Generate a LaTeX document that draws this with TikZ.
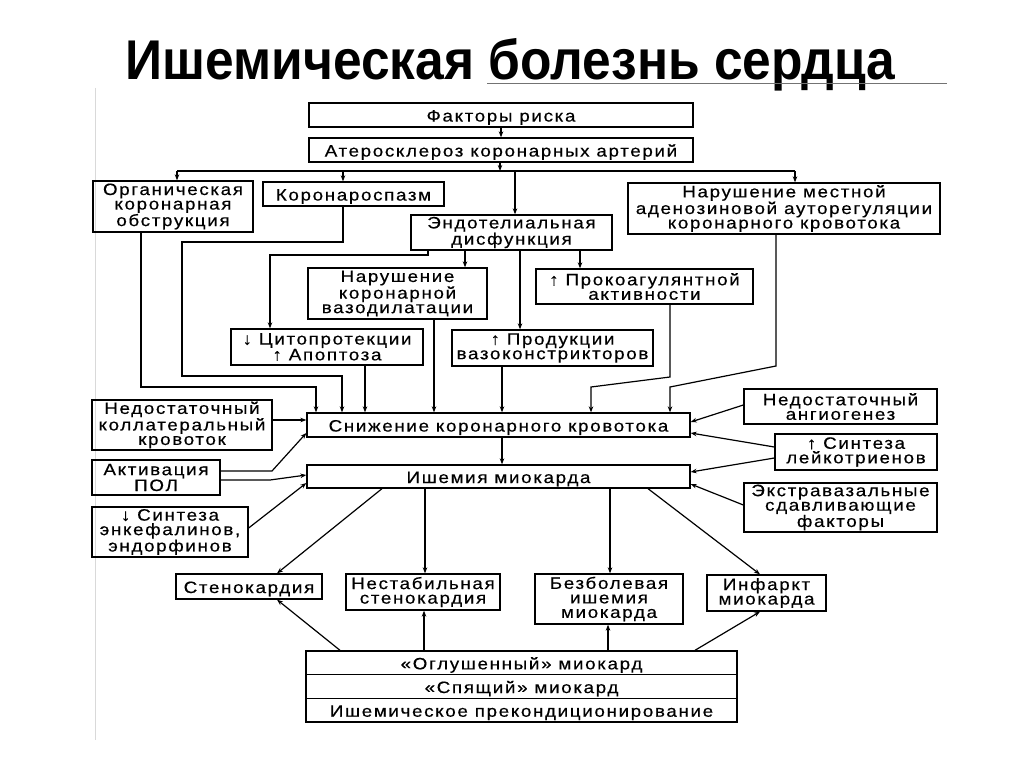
\documentclass[tikz,border=0pt]{standalone}
\usepackage{fontspec}
\setmainfont{Liberation Sans}
\newfontfamily\boxfont[FakeStretch=1.14,LetterSpace=10,FakeBold=0.4]{Liberation Sans}
\newfontfamily\titlefont[FakeStretch=0.92]{Liberation Sans}
\usetikzlibrary{arrows.meta}
\tikzset{
  box/.style={draw, line width=1.3pt, inner sep=1pt, align=center,
    font=\boxfont\fontsize{16.5}{14.5}\selectfont,
    execute at begin node={\rule{0pt}{16.5pt}}},
  ln/.style={line width=1.2pt},
  arr/.style={line width=1.2pt, -{Stealth[length=6pt,width=4.5pt]}}
}
\begin{document}
\begin{tikzpicture}[x=1pt,y=-1pt]
\fill[white] (0,0) rectangle (1024,767);
\useasboundingbox (0,0) rectangle (1024,767);
% title
\node[anchor=base, inner sep=0, font=\titlefont\bfseries\fontsize{56}{60}\selectfont] (title) at (510.5,80) {Ишемическая болезнь сердца};
\draw[black!55, line width=1pt] (487,84) -- (947,84);
\draw[black!15, line width=1pt] (95,88) -- (95,740);
% boxes
\node[box, minimum width=384pt, minimum height=24pt] (risk) at (501,115) {Факторы риска};
\node[box, minimum width=384pt, minimum height=24pt] (ath) at (501,150) {Атеросклероз коронарных артерий};
\node[box, minimum width=160pt, minimum height=51pt] (org) at (173,206.5) {Органическая\\коронарная\\обструкция};
\node[box, minimum width=181pt, minimum height=24pt] (spasm) at (353.5,194) {Коронароспазм};
\node[box, minimum width=201pt, minimum height=35pt] (endo) at (511.5,232.5) {Эндотелиальная\\дисфункция};
\node[box, minimum width=312pt, minimum height=51pt] (aden) at (784,208.5) {Нарушение местной\\аденозиновой ауторегуляции\\коронарного кровотока};
\node[box, minimum width=179pt, minimum height=51pt] (vaso) at (397.5,293.5) {Нарушение\\коронарной\\вазодилатации};
\node[box, minimum width=217pt, minimum height=35pt] (proc) at (644.5,286.5) {↑ Прокоагулянтной\\активности};
\node[box, minimum width=192pt, minimum height=36pt] (cyto) at (327,347) {↓ Цитопротекции\\↑ Апоптоза};
\node[box, minimum width=201pt, minimum height=36pt] (prod) at (552.5,348) {↑ Продукции\\вазоконстрикторов};
\node[box, minimum width=383pt, minimum height=24pt] (sniz) at (498.5,425) {Снижение коронарного кровотока};
\node[box, minimum width=383pt, minimum height=23pt] (isch) at (498.5,476.5) {Ишемия миокарда};
\node[box, minimum width=180pt, minimum height=50pt] (koll) at (182,425) {Недостаточный\\коллатеральный\\кровоток};
\node[box, minimum width=128pt, minimum height=35pt] (pol) at (156,477.5) {Активация\\ПОЛ};
\node[box, minimum width=156pt, minimum height=50pt] (enk) at (170,532) {↓ Синтеза\\энкефалинов,\\эндорфинов};
\node[box, minimum width=193pt, minimum height=35pt] (angio) at (840.5,406.5) {Недостаточный\\ангиогенез};
\node[box, minimum width=162pt, minimum height=36pt] (leik) at (856,452) {↑ Синтеза\\лейкотриенов};
\node[box, minimum width=193pt, minimum height=49pt] (extra) at (840.5,507.5) {Экстравазальные\\сдавливающие\\факторы};
\node[box, minimum width=146pt, minimum height=25pt] (sten) at (249,586.5) {Стенокардия};
\node[box, minimum width=154pt, minimum height=36pt] (unst) at (423,592) {Нестабильная\\стенокардия};
\node[box, minimum width=148pt, minimum height=50pt] (pain) at (609,599) {Безболевая\\ишемия\\миокарда};
\node[box, minimum width=119pt, minimum height=36pt] (inf) at (766.5,593) {Инфаркт\\миокарда};
\node[box, minimum width=431pt, minimum height=23.7pt] (b1) at (521.5,662.8) {«Оглушенный» миокард};
\node[box, minimum width=431pt, minimum height=23.7pt] (b2) at (521.5,686.5) {«Спящий» миокард};
\node[box, minimum width=431pt, minimum height=23.7pt] (b3) at (521.5,710.2) {Ишемическое прекондиционирование};
% top connectors
\coordinate (jA) at (500,171);
\coordinate (hl) at (177,171);
\coordinate (hr) at (795,171);
\coordinate (hs) at (343,171);
\coordinate (he) at (515,171);
\draw[arr] (risk.south) -- (ath.north);
\draw[arr] (ath.south -| jA) -- (jA);
\draw[ln] (hl) -- (hr);
\draw[arr] (hl) -- (hl |- org.north);
\draw[arr] (hs) -- (hs |- spasm.north);
\draw[arr] (he) -- (he |- endo.north);
\draw[arr] (hr) -- (hr |- aden.north);
% organic obstruction
\coordinate (o1) at (141,387);
\coordinate (o2) at (316,387);
\draw[arr] (o1 |- org.south) -- (o1) -- (o2) -- (o2 |- sniz.north);
% coronary spasm
\coordinate (c1) at (343,242);
\coordinate (c2) at (182,242);
\coordinate (c3) at (182,376);
\coordinate (c4) at (342,376);
\draw[arr] (c1 |- spasm.south) -- (c1) -- (c2) -- (c3) -- (c4) -- (c4 |- sniz.north);
% endothelial dysfunction
\coordinate (d1) at (428,255);
\coordinate (d2) at (270,255);
\draw[arr] (d1 |- endo.south) -- (d1) -- (d2) -- (d2 |- cyto.north);
\coordinate (xv) at (465,260);
\coordinate (xp) at (520,260);
\coordinate (xk) at (580,260);
\draw[arr] (xv |- endo.south) -- (xv |- vaso.north);
\draw[arr] (xp |- endo.south) -- (xp |- prod.north);
\draw[arr] (xk |- endo.south) -- (xk |- proc.north);
% into reduced flow
\coordinate (xc) at (365,380);
\coordinate (xz) at (434,380);
\coordinate (xd) at (502,380);
\draw[arr] (xc |- cyto.south) -- (xc |- sniz.north);
\draw[arr] (xz |- vaso.south) -- (xz |- sniz.north);
\draw[arr] (xd |- prod.south) -- (xd |- sniz.north);
\coordinate (p1) at (670,377);
\coordinate (p2) at (591,387);
\draw[arr] (p1 |- proc.south) -- (p1) -- (p2) -- (p2 |- sniz.north);
\coordinate (a1) at (776,366);
\coordinate (a2) at (670,387);
\draw[arr] (a1 |- aden.south) -- (a1) -- (a2) -- (a2 |- sniz.north);
\coordinate (xi) at (502,450);
\draw[arr] (xi |- sniz.south) -- (xi |- isch.north);
% left side factors
\draw[arr] ([yshift=5pt]koll.east) -- ([yshift=5pt]koll.east -| sniz.west);
\coordinate (q1) at (272,471);
\coordinate (q2) at (270,480);
\draw[arr] ([yshift=6.5pt]pol.east) -- (q1) -- ([yshift=-8pt]sniz.west);
\draw[arr] ([yshift=-2.5pt]pol.east) -- (q2) -- ([yshift=1.5pt]isch.west);
\draw[arr] ([yshift=4pt]enk.east) -- ([yshift=-6.5pt]isch.west);
% right side factors
\draw[arr] ([yshift=1.5pt]angio.west) -- ([yshift=3pt]sniz.east);
\draw[arr] ([yshift=5pt]leik.west) -- ([yshift=-8pt]sniz.east);
\draw[arr] ([yshift=-6pt]leik.west) -- ([yshift=4.5pt]isch.east);
\draw[arr] ([yshift=2.5pt]extra.west) -- ([yshift=-7.5pt]isch.east);
% outcomes
\coordinate (m1) at (382,500);
\coordinate (t1) at (277,500);
\coordinate (m2) at (425,500);
\coordinate (m3) at (610,500);
\coordinate (m4) at (648,500);
\coordinate (t4) at (760,500);
\draw[arr] (m1 |- isch.south) -- (t1 |- sten.north);
\draw[arr] (m2 |- isch.south) -- (m2 |- unst.north);
\draw[arr] (m3 |- isch.south) -- (m3 |- pain.north);
\draw[arr] (m4 |- isch.south) -- (t4 |- inf.north);
\coordinate (u1) at (340,640);
\coordinate (v1) at (277,640);
\coordinate (u2) at (424,640);
\coordinate (u3) at (608,640);
\coordinate (u4) at (695,640);
\coordinate (v4) at (760,640);
\draw[arr] (u1 |- b1.north) -- (v1 |- sten.south);
\draw[arr] (u2 |- b1.north) -- (u2 |- unst.south);
\draw[arr] (u3 |- b1.north) -- (u3 |- pain.south);
\draw[arr] (u4 |- b1.north) -- (v4 |- inf.south);
\end{tikzpicture}
\end{document}
